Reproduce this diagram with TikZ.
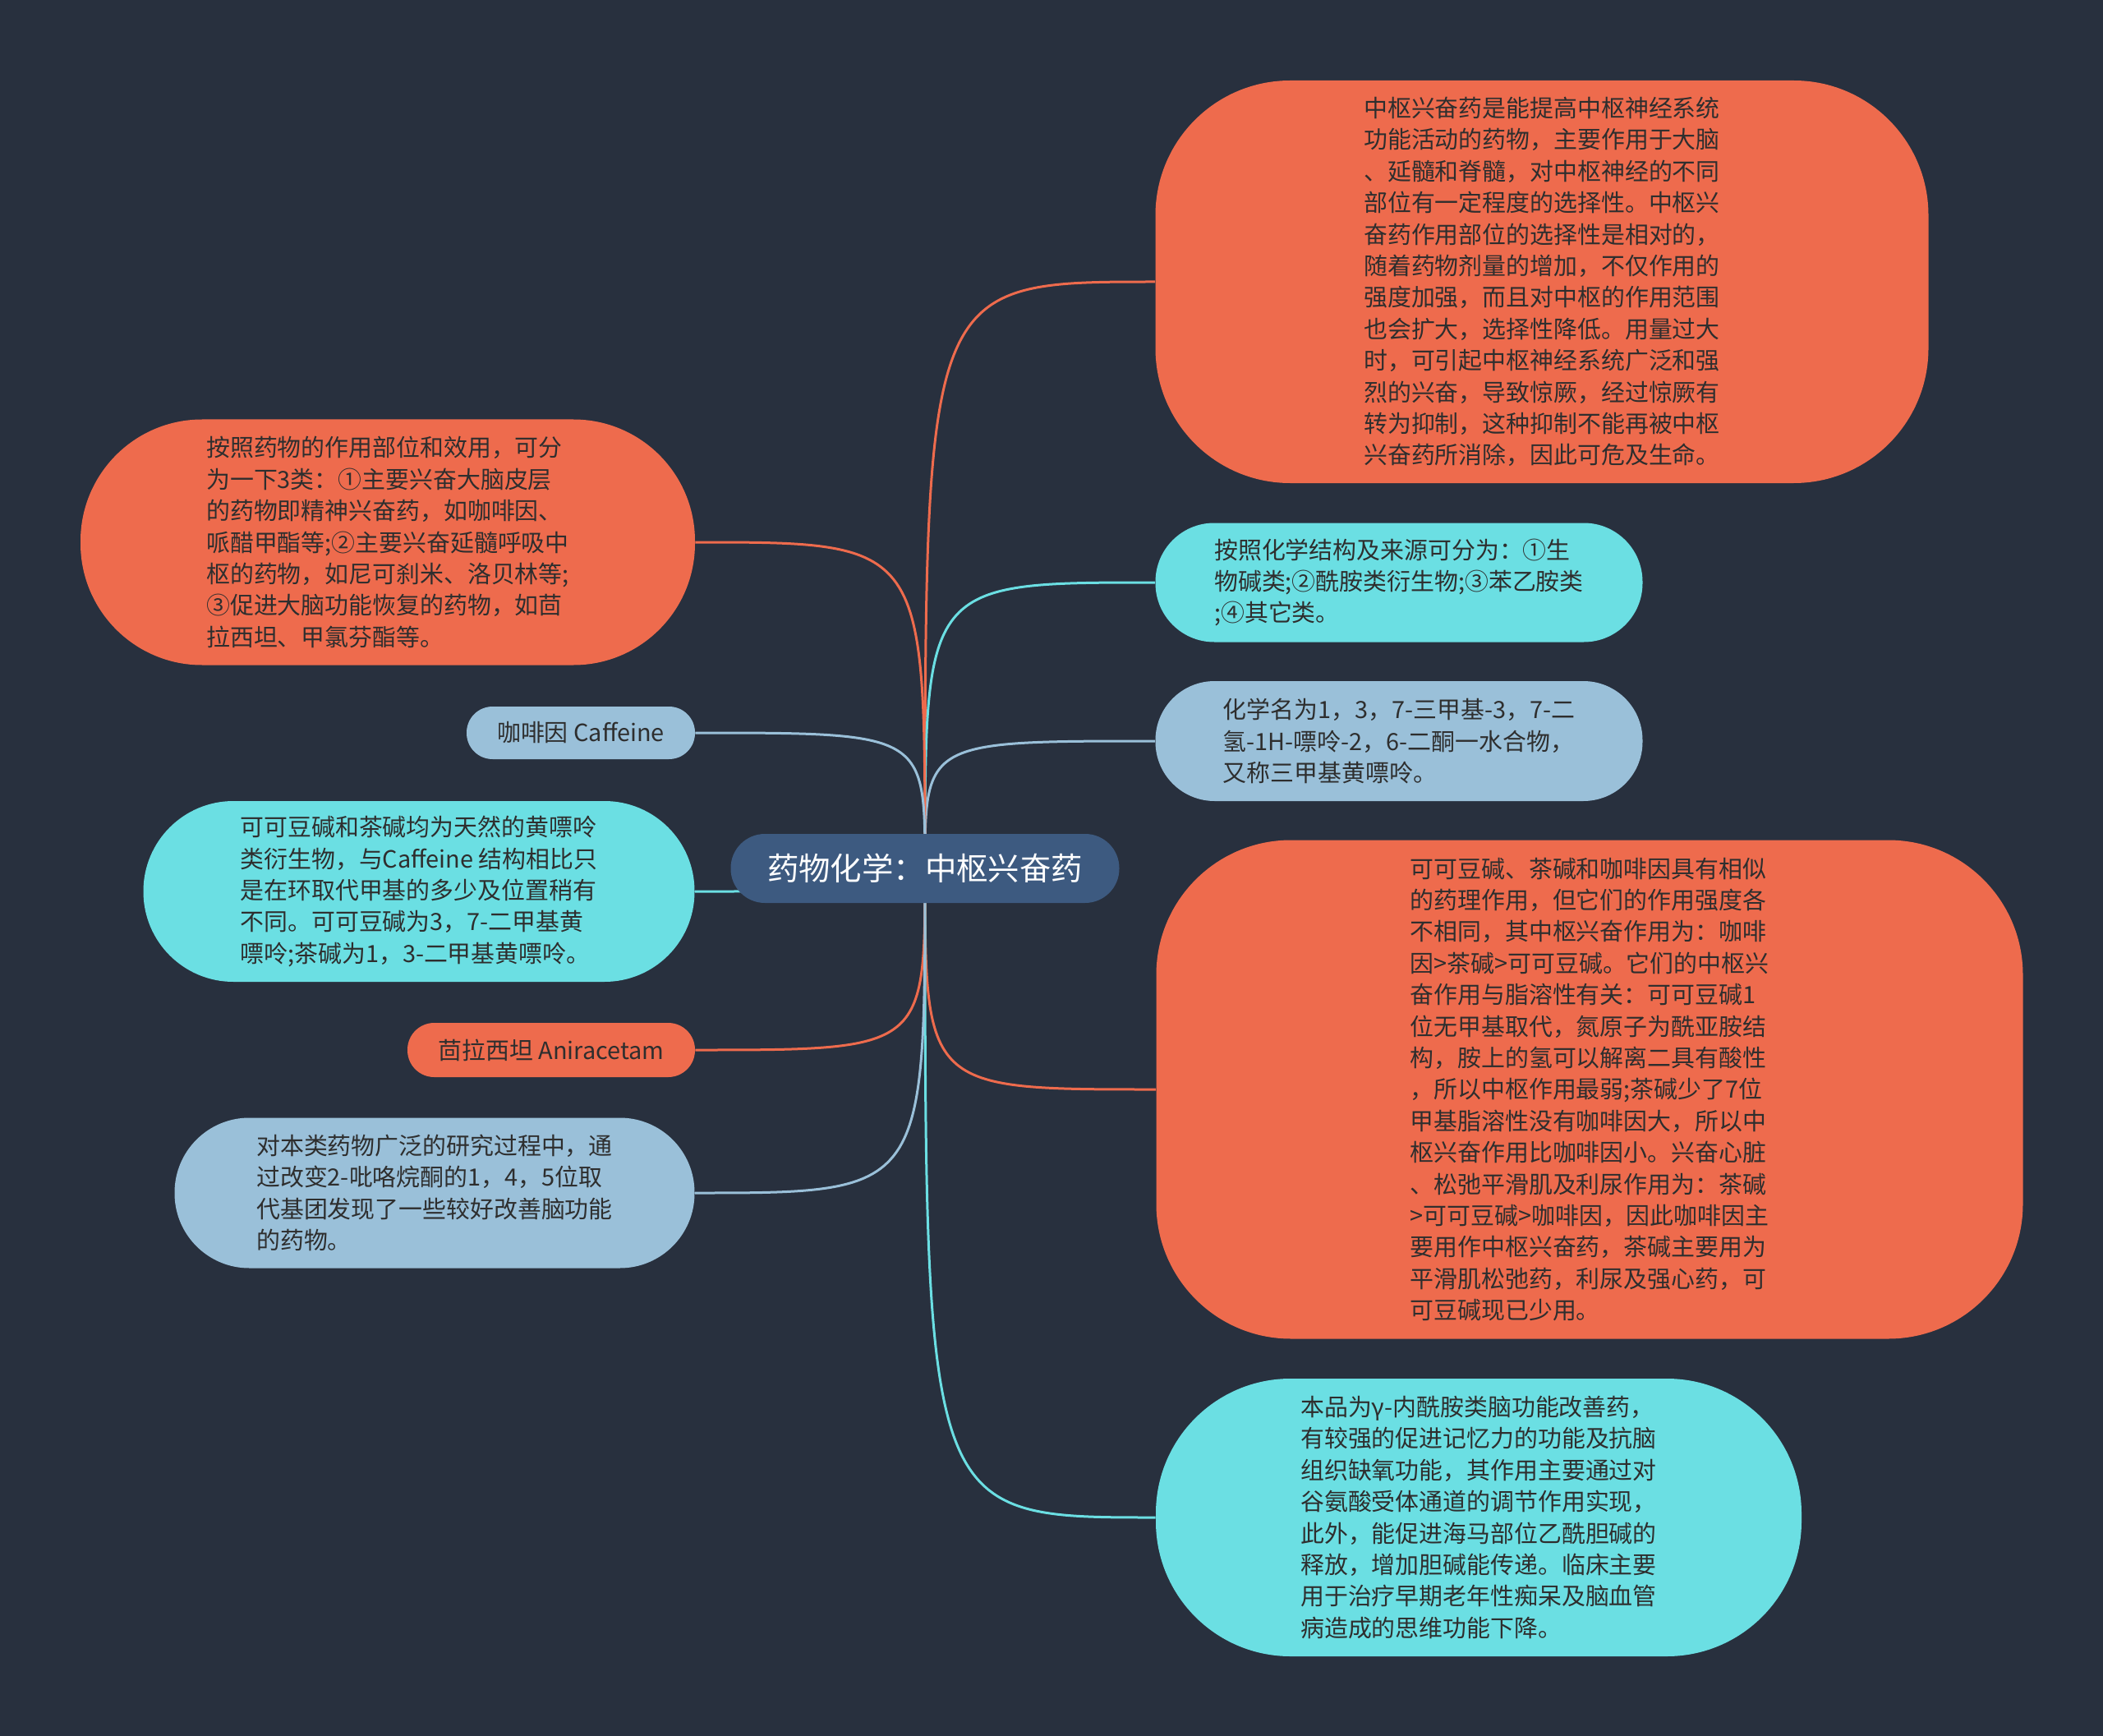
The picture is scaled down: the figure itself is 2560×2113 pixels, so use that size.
\documentclass[tikz,border=0pt]{standalone}
\usepackage{fontspec}
\setmainfont{Noto Sans CJK SC}
\usepackage{xcolor}
\usepackage{tikz}

\definecolor{bgdark}{HTML}{28303E}
\definecolor{mmorange}{HTML}{EE6B4D}
\definecolor{mmcyan}{HTML}{6BDFE3}
\definecolor{mmblue}{HTML}{9AC0D9}
\definecolor{mmroot}{HTML}{3D5A80}
\definecolor{textdark}{HTML}{2E2E2E}

\pgfdeclarelayer{back}
\pgfdeclarelayer{edges}
\pgfsetlayers{back,edges,main}

\tikzset{
  mmbox/.style={rectangle,inner sep=0pt,align=left,text=textdark,
    font=\fontsize{14.45pt}{19.2pt}\selectfont},
  orangebox/.style={mmbox,fill=mmorange},
  cyanbox/.style={mmbox,fill=mmcyan},
  bluebox/.style={mmbox,fill=mmblue},
  rootbox/.style={rectangle,inner sep=0pt,fill=mmroot,text=white,
    font=\fontsize{19.2pt}{24pt}\selectfont},
  orangeline/.style={draw=mmorange,line width=1.5pt},
  cyanline/.style={draw=mmcyan,line width=1.5pt},
  blueline/.style={draw=mmblue,line width=1.5pt}
}

\begin{document}
\begin{tikzpicture}[x=0.5pt,y=-0.5pt]
\begin{pgfonlayer}{back}
\fill[bgdark] (0,0) rectangle (2560,2113);
\end{pgfonlayer}
\useasboundingbox (0,0) rectangle (2560,2113);

\node (root) at (1126,1057) [rootbox,minimum width=236.5pt,minimum height=42pt,rounded corners=20.8pt] {药物化学：中枢兴奋药};

\node (def) at (1877,343) [orangebox,minimum width=470.5pt,minimum height=245pt,rounded corners=82pt]
{中枢兴奋药是能提高中枢神经系统\\功能活动的药物，主要作用于大脑\\、延髓和脊髓，对中枢神经的不同\\部位有一定程度的选择性。中枢兴\\奋药作用部位的选择性是相对的，\\随着药物剂量的增加，不仅作用的\\强度加强，而且对中枢的作用范围\\也会扩大，选择性降低。用量过大\\时，可引起中枢神经系统广泛和强\\烈的兴奋，导致惊厥，经过惊厥有\\转为抑制，这种抑制不能再被中枢\\兴奋药所消除，因此可危及生命。};
\node (chem) at (1703,709) [cyanbox,minimum width=296.5pt,minimum height=72.5pt,rounded corners=35.8pt]
{按照化学结构及来源可分为：①生\\物碱类;②酰胺类衍生物;③苯乙胺类\\;④其它类。};
\node (name) at (1703,902) [bluebox,minimum width=296.5pt,minimum height=73pt,rounded corners=36pt]
{化学名为1，3，7-三甲基-3，7-二\\氢-1H-嘌呤-2，6-二酮一水合物，\\又称三甲基黄嘌呤。};
\node (compare) at (1935,1326) [orangebox,minimum width=527.5pt,minimum height=303.5pt,rounded corners=82pt]
{可可豆碱、茶碱和咖啡因具有相似\\的药理作用，但它们的作用强度各\\不相同，其中枢兴奋作用为：咖啡\\因>茶碱>可可豆碱。它们的中枢兴\\奋作用与脂溶性有关：可可豆碱1\\位无甲基取代，氮原子为酰亚胺结\\构，胺上的氢可以解离二具有酸性\\，所以中枢作用最弱;茶碱少了7位\\甲基脂溶性没有咖啡因大，所以中\\枢兴奋作用比咖啡因小。兴奋心脏\\、松弛平滑肌及利尿作用为：茶碱\\>可可豆碱>咖啡因，因此咖啡因主\\要用作中枢兴奋药，茶碱主要用为\\平滑肌松弛药，利尿及强心药，可\\可豆碱现已少用。};
\node (lactam) at (1800,1847) [cyanbox,minimum width=393pt,minimum height=169pt,rounded corners=82pt]
{本品为γ-内酰胺类脑功能改善药，\\有较强的促进记忆力的功能及抗脑\\组织缺氧功能，其作用主要通过对\\谷氨酸受体通道的调节作用实现，\\此外，能促进海马部位乙酰胆碱的\\释放，增加胆碱能传递。临床主要\\用于治疗早期老年性痴呆及脑血管\\病造成的思维功能下降。};

\node (classes) at (472,660) [orangebox,minimum width=374pt,minimum height=149.5pt,rounded corners=74pt]
{按照药物的作用部位和效用，可分\\为一下3类：①主要兴奋大脑皮层\\的药物即精神兴奋药，如咖啡因、\\哌醋甲酯等;②主要兴奋延髓呼吸中\\枢的药物，如尼可刹米、洛贝林等;\\③促进大脑功能恢复的药物，如茴\\拉西坦、甲氯芬酯等。};
\node (caffeine) at (707,892) [bluebox,minimum width=139pt,minimum height=32pt,rounded corners=15.8pt] {咖啡因 Caffeine};
\node (xanthine) at (510,1085) [cyanbox,minimum width=335.5pt,minimum height=110pt,rounded corners=54.8pt]
{可可豆碱和茶碱均为天然的黄嘌呤\\类衍生物，与Caffeine 结构相比只\\是在环取代甲基的多少及位置稍有\\不同。可可豆碱为3，7-二甲基黄\\嘌呤;茶碱为1，3-二甲基黄嘌呤。};
\node (aniracetam) at (671,1278) [orangebox,minimum width=175pt,minimum height=33pt,rounded corners=16.3pt] {茴拉西坦 Aniracetam};
\node (pyrrol) at (529,1452) [bluebox,minimum width=316.5pt,minimum height=91.5pt,rounded corners=45.5pt]
{对本类药物广泛的研究过程中，通\\过改变2-吡咯烷酮的1，4，5位取\\代基团发现了一些较好改善脑功能\\的药物。};

\begin{pgfonlayer}{edges}
\draw[orangeline] (root.center) .. controls (root.center |- def.west) .. (def.west);
\draw[cyanline] (root.center) .. controls (root.center |- chem.west) .. (chem.west);
\draw[blueline] (root.center) .. controls (root.center |- name.west) .. (name.west);
\draw[orangeline] (root.center) .. controls (root.center |- compare.west) .. (compare.west);
\draw[cyanline] (root.center) .. controls (root.center |- lactam.west) .. (lactam.west);
\draw[orangeline] (root.center) .. controls (root.center |- classes.east) .. (classes.east);
\draw[blueline] (root.center) .. controls (root.center |- caffeine.east) .. (caffeine.east);
\draw[cyanline] (root.center) .. controls (root.center |- xanthine.east) .. (xanthine.east);
\draw[orangeline] (root.center) .. controls (root.center |- aniracetam.east) .. (aniracetam.east);
\draw[blueline] (root.center) .. controls (root.center |- pyrrol.east) .. (pyrrol.east);
\end{pgfonlayer}
\end{tikzpicture}
\end{document}
